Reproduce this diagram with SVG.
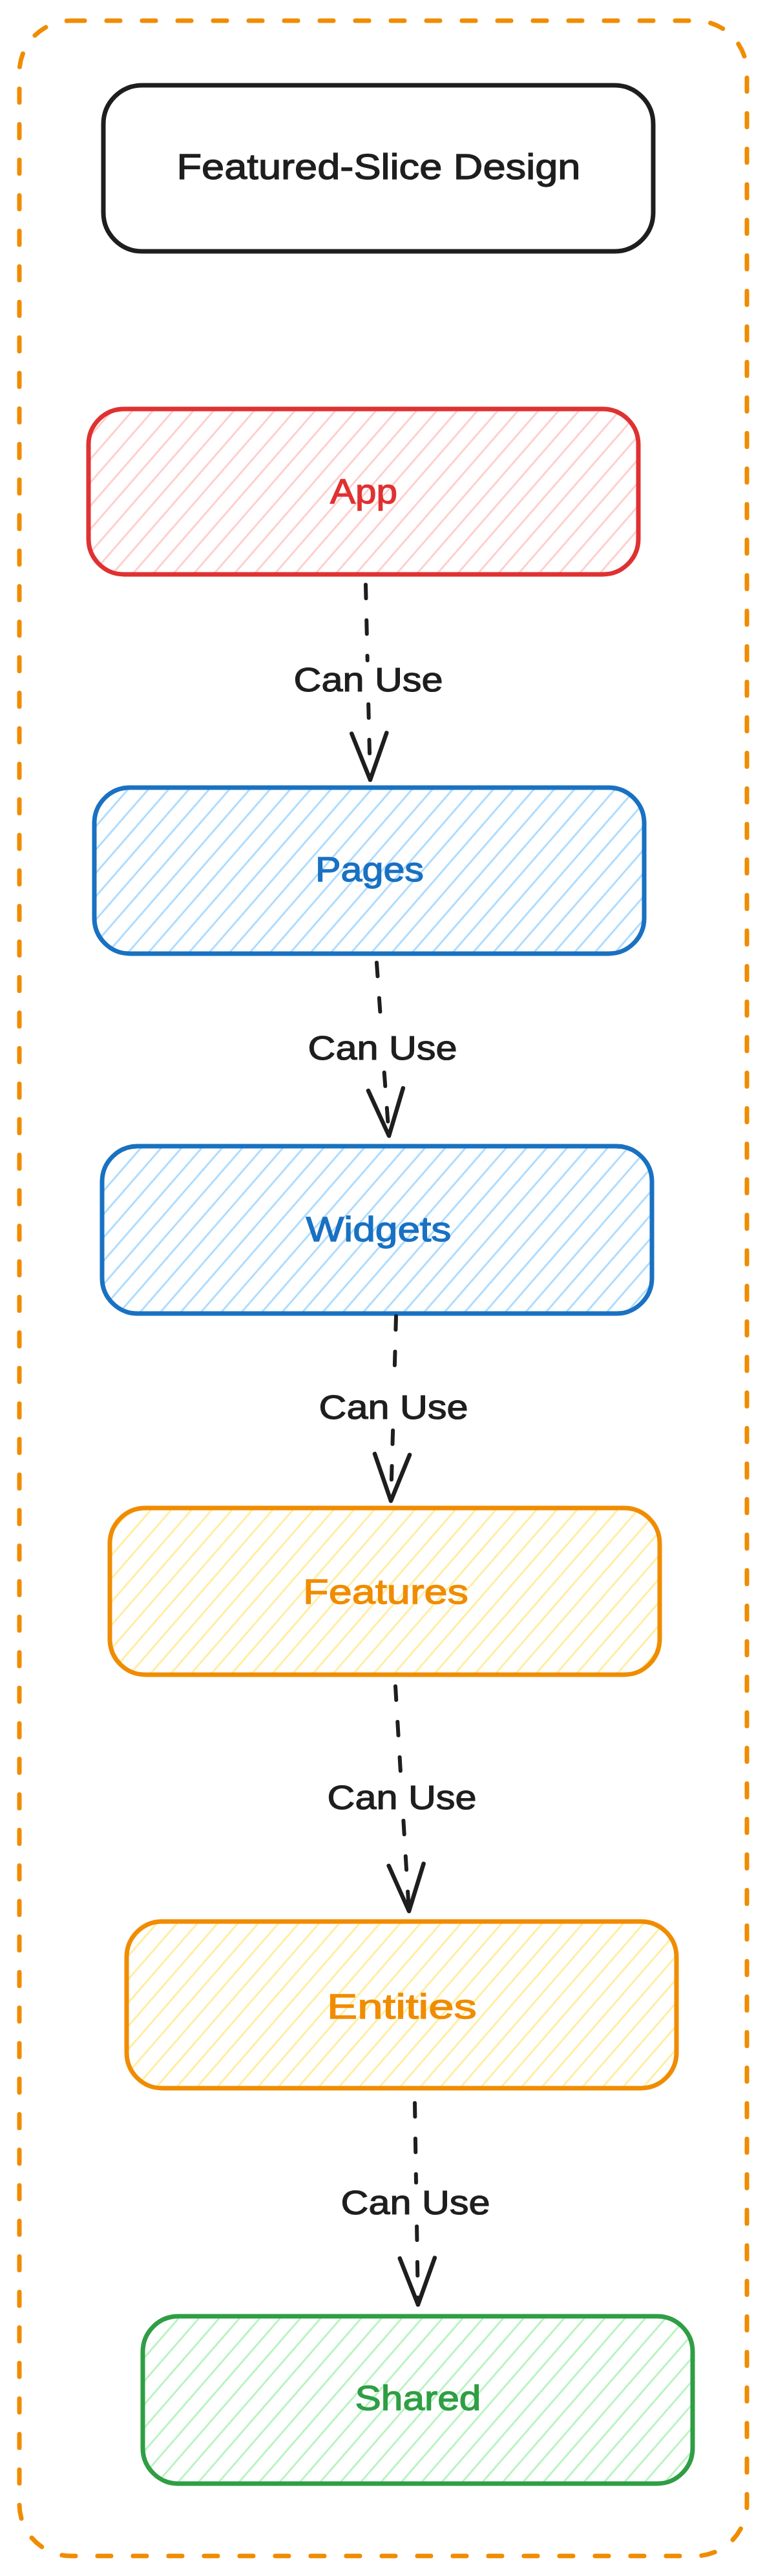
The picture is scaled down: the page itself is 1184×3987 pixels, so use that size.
<svg xmlns="http://www.w3.org/2000/svg" width="1184" height="3987" viewBox="0 0 1184 3987">
  <style>
    .frame { fill: none; stroke: #f08c00; stroke-width: 7; stroke-dasharray: 21 34; stroke-linecap: round; }
    .box { stroke-width: 7; stroke-linejoin: round; }
    .title-box { fill: #ffffff; stroke: #1e1e1e; stroke-width: 7; }
    .lbl { font-family: "Liberation Sans", "DejaVu Sans", sans-serif; font-size: 53px; text-anchor: middle; stroke-width: 1.3; }
    .title { font-family: "Liberation Sans", "DejaVu Sans", sans-serif; font-size: 55px; text-anchor: middle; fill: #1e1e1e; stroke: #1e1e1e; stroke-width: 1.3; }
    .edge-lbl { font-family: "Liberation Sans", "DejaVu Sans", sans-serif; font-size: 51px; text-anchor: middle; fill: #1e1e1e; stroke: #1e1e1e; stroke-width: 1.2; }
    .dash { fill: none; stroke: #1e1e1e; stroke-width: 6; stroke-dasharray: 21 34; stroke-linecap: round; }
    .head { fill: none; stroke: #1e1e1e; stroke-width: 6.5; stroke-linecap: round; stroke-linejoin: round; }
  </style>
  <defs>
    <pattern id="hRed" patternUnits="userSpaceOnUse" width="23.7" height="20" patternTransform="rotate(41)">
      <line x1="3" y1="-5" x2="3" y2="25" stroke="#ffc9c9" stroke-width="2.7"/>
    </pattern>
    <pattern id="hBlue" patternUnits="userSpaceOnUse" width="23.7" height="20" patternTransform="rotate(41)">
      <line x1="3" y1="-5" x2="3" y2="25" stroke="#a5d8ff" stroke-width="2.7"/>
    </pattern>
    <pattern id="hYellow" patternUnits="userSpaceOnUse" width="23.7" height="20" patternTransform="rotate(41)">
      <line x1="3" y1="-5" x2="3" y2="25" stroke="#ffec99" stroke-width="2.7"/>
    </pattern>
    <pattern id="hGreen" patternUnits="userSpaceOnUse" width="23.7" height="20" patternTransform="rotate(41)">
      <line x1="3" y1="-5" x2="3" y2="25" stroke="#b2f2bb" stroke-width="2.7"/>
    </pattern>
  </defs>

  <rect id="frame" class="frame" x="30" y="32" width="1126" height="3924" rx="80" ry="80"/>

  <g id="title">
    <rect class="title-box" x="160" y="132" width="851" height="257" rx="60" ry="60"/>
    <text class="title" x="586" y="277" textLength="625" lengthAdjust="spacingAndGlyphs">Featured-Slice Design</text>
  </g>

  <g id="app">
    <rect class="box" x="137" y="633" width="851" height="256" rx="55" ry="55" fill="url(#hRed)" stroke="#e03131"/>
    <text class="lbl" x="563" y="779" fill="#e03131" stroke="#e03131" textLength="104" lengthAdjust="spacingAndGlyphs">App</text>
  </g>

  <g id="pages">
    <rect class="box" x="146" y="1219" width="851" height="257" rx="55" ry="55" fill="url(#hBlue)" stroke="#1971c2"/>
    <text class="lbl" x="572" y="1364" fill="#1971c2" stroke="#1971c2" textLength="168" lengthAdjust="spacingAndGlyphs">Pages</text>
  </g>

  <g id="widgets">
    <rect class="box" x="158" y="1774" width="851" height="259" rx="55" ry="55" fill="url(#hBlue)" stroke="#1971c2"/>
    <text class="lbl" x="586" y="1921" fill="#1971c2" stroke="#1971c2" textLength="225" lengthAdjust="spacingAndGlyphs">Widgets</text>
  </g>

  <g id="features">
    <rect class="box" x="170" y="2334" width="851" height="258" rx="55" ry="55" fill="url(#hYellow)" stroke="#f08c00"/>
    <text class="lbl" x="597" y="2482" fill="#f08c00" stroke="#f08c00" textLength="256" lengthAdjust="spacingAndGlyphs">Features</text>
  </g>

  <g id="entities">
    <rect class="box" x="196" y="2974" width="851" height="258" rx="55" ry="55" fill="url(#hYellow)" stroke="#f08c00"/>
    <text class="lbl" x="622" y="3124" fill="#f08c00" stroke="#f08c00" textLength="232" lengthAdjust="spacingAndGlyphs">Entities</text>
  </g>

  <g id="shared">
    <rect class="box" x="221" y="3585" width="851" height="259" rx="55" ry="55" fill="url(#hGreen)" stroke="#2f9e44"/>
    <text class="lbl" x="647" y="3730" fill="#2f9e44" stroke="#2f9e44" textLength="195" lengthAdjust="spacingAndGlyphs">Shared</text>
  </g>

  <g id="connectors">
    <g id="app-pages">
      <path class="dash" d="M566 905 L568.7 1022"/>
      <path class="dash" d="M570.2 1090 L573 1207"/>
      <path class="head" d="M598.3 1134.4 L573 1207 L544.3 1135.6"/>
      <text class="edge-lbl" x="570" y="1070" textLength="231" lengthAdjust="spacingAndGlyphs">Can Use</text>
    </g>
    <g id="pages-widgets">
      <path class="dash" d="M583 1490 L590.2 1592"/>
      <path class="dash" d="M594.7 1660 L602 1758"/>
      <path class="head" d="M623.8 1684.3 L602 1758 L570 1688.1"/>
      <text class="edge-lbl" x="592" y="1640" textLength="231" lengthAdjust="spacingAndGlyphs">Can Use</text>
    </g>
    <g id="widgets-features">
      <path class="dash" d="M613 2037 L610 2145"/>
      <path class="dash" d="M608.1 2214 L605 2323"/>
      <path class="head" d="M634 2251.8 L605 2323 L580 2250.2"/>
      <text class="edge-lbl" x="609" y="2196" textLength="231" lengthAdjust="spacingAndGlyphs">Can Use</text>
    </g>
    <g id="features-entities">
      <path class="dash" d="M612 2610 L620.4 2750"/>
      <path class="dash" d="M624.4 2818 L633 2958"/>
      <path class="head" d="M655.6 2884.5 L633 2958 L601.7 2887.8"/>
      <text class="edge-lbl" x="622" y="2800" textLength="231" lengthAdjust="spacingAndGlyphs">Can Use</text>
    </g>
    <g id="entities-shared">
      <path class="dash" d="M642 3255 L644 3378"/>
      <path class="dash" d="M645.1 3446 L647 3567"/>
      <path class="head" d="M672.8 3494.6 L647 3567 L618.8 3495.4"/>
      <text class="edge-lbl" x="643" y="3427" textLength="231" lengthAdjust="spacingAndGlyphs">Can Use</text>
    </g>
  </g>
</svg>
